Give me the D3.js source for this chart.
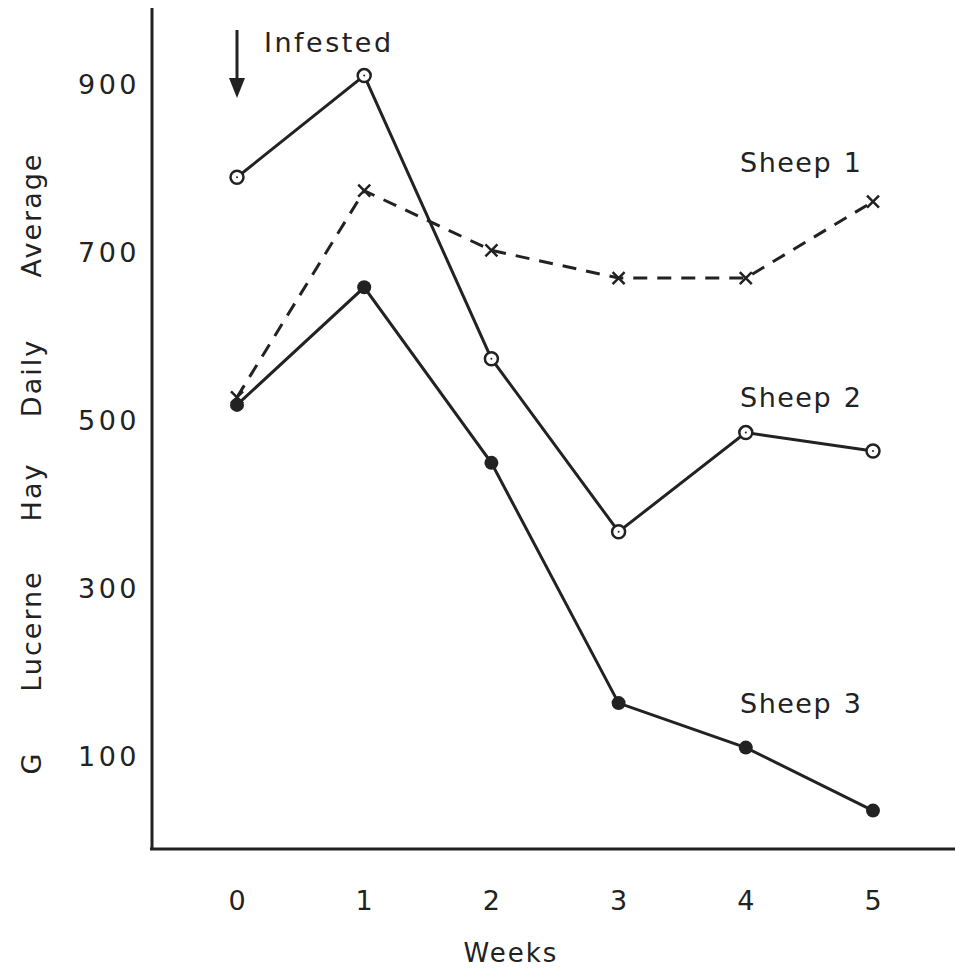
<!DOCTYPE html>
<html>
<head>
<meta charset="utf-8">
<script src="https://cdn.jsdelivr.net/npm/d3@7"></script>
<style>
  body { margin: 0; background: #fff; }
  text { font-family: "DejaVu Sans", sans-serif; fill: #222; }
</style>
</head>
<body>
<div class="chart"></div>
<script>
// chart data
var weeks = [0, 1, 2, 3, 4, 5];
var sheep1 = [527, 773, 702, 669, 669, 760];   // dashed, crosses
var sheep2 = [789, 910, 573, 367, 485, 463];   // open circles
var sheep3 = [518, 658, 449, 163, 110, 35];    // filled circles
var yTicks = [100, 300, 500, 700, 900];
var yTitleWords = ["G", "Lucerne", "Hay", "Daily", "Average"];

// dimensions
var width = 955, height = 972;

var svg = d3.select(".chart")
            .append("svg")
            .attr("width", width)
            .attr("height", height);

// scales
var x = d3.scaleLinear().domain([0, 5]).range([237, 873]);
var y = d3.scaleLinear().domain([0, 900]).range([840, 84]);

var ink = "#222";

// axes (plain lines, no tick marks)
svg.append("line")
    .attr("x1", 152).attr("x2", 152)
    .attr("y1", 8).attr("y2", 849)
    .attr("stroke", ink).attr("stroke-width", 3);
svg.append("line")
    .attr("x1", 150).attr("x2", 955)
    .attr("y1", 849).attr("y2", 849)
    .attr("stroke", ink).attr("stroke-width", 3);

// y tick labels
svg.selectAll(".ylab")
    .data(yTicks)
    .enter().append("text")
    .attr("class", "ylab")
    .attr("x", 140)
    .attr("y", function(d) { return y(d) + 10; })
    .attr("text-anchor", "end")
    .style("font-size", "27px")
    .style("letter-spacing", "3.5px")
    .text(function(d) { return d; });

// x tick labels
svg.selectAll(".xlab")
    .data(weeks)
    .enter().append("text")
    .attr("class", "xlab")
    .attr("x", function(d) { return x(d); })
    .attr("y", 910)
    .attr("text-anchor", "middle")
    .style("font-size", "27px")
    .text(function(d) { return d; });

// axis titles
svg.append("text")
    .attr("x", 511).attr("y", 962)
    .attr("text-anchor", "middle")
    .style("font-size", "26px")
    .style("letter-spacing", "2px")
    .text("Weeks");

// the y title is spread out word by word along the axis
var titleY = [763, 631, 492, 378, 215];
svg.selectAll(".ytitle")
    .data(yTitleWords)
    .enter().append("text")
    .attr("class", "ytitle")
    .attr("transform", function(d, i) { return "translate(41," + titleY[i] + ") rotate(-90)"; })
    .attr("text-anchor", "middle")
    .style("font-size", "27px")
    .style("letter-spacing", "2px")
    .text(function(d) { return d; });

// line generator
var line = d3.line()
    .x(function(d, i) { return x(weeks[i]); })
    .y(function(d) { return y(d); });

svg.append("path")
    .attr("d", line(sheep1))
    .attr("fill", "none").attr("stroke", ink)
    .attr("stroke-width", 3).attr("stroke-dasharray", "14,10");

svg.append("path")
    .attr("d", line(sheep2))
    .attr("fill", "none").attr("stroke", ink).attr("stroke-width", 3);

svg.append("path")
    .attr("d", line(sheep3))
    .attr("fill", "none").attr("stroke", ink).attr("stroke-width", 3);

// crosses
svg.selectAll(".cross")
    .data(sheep1)
    .enter().append("path")
    .attr("class", "cross")
    .attr("transform", function(d, i) { return "translate(" + x(weeks[i]) + "," + y(d) + ")"; })
    .attr("d", "M-6,-6L6,6M6,-6L-6,6")
    .attr("stroke", ink).attr("stroke-width", 2.5);

// filled circles
svg.selectAll(".filled")
    .data(sheep3)
    .enter().append("circle")
    .attr("class", "filled")
    .attr("cx", function(d, i) { return x(weeks[i]); })
    .attr("cy", function(d) { return y(d); })
    .attr("r", 7)
    .attr("fill", ink);

// open circles with a centre dot
svg.selectAll(".open")
    .data(sheep2)
    .enter().append("circle")
    .attr("class", "open")
    .attr("cx", function(d, i) { return x(weeks[i]); })
    .attr("cy", function(d) { return y(d); })
    .attr("r", 6.5)
    .attr("fill", "#fff").attr("stroke", ink).attr("stroke-width", 2.5);
svg.selectAll(".dot")
    .data(sheep2)
    .enter().append("circle")
    .attr("class", "dot")
    .attr("cx", function(d, i) { return x(weeks[i]); })
    .attr("cy", function(d) { return y(d); })
    .attr("r", 1)
    .attr("fill", ink);

// series labels
var labels = [["Sheep", "1", 172], ["Sheep", "2", 407], ["Sheep", "3", 713]];
labels.forEach(function(l) {
    svg.append("text").attr("x", 740).attr("y", l[2])
        .style("font-size", "27px").style("letter-spacing", "1.5px").text(l[0]);
    svg.append("text").attr("x", 861).attr("y", l[2])
        .attr("text-anchor", "end")
        .style("font-size", "27px").text(l[1]);
});

// infested marker
svg.append("line")
    .attr("x1", 237).attr("x2", 237)
    .attr("y1", 30).attr("y2", 88)
    .attr("stroke", ink).attr("stroke-width", 3);
svg.append("path")
    .attr("d", "M229,78L237,98L245,78Z")
    .attr("fill", ink);
svg.append("text")
    .attr("x", 264).attr("y", 52)
    .style("font-size", "27px")
    .style("letter-spacing", "2.5px")
    .text("Infested");
</script>
</body>
</html>
